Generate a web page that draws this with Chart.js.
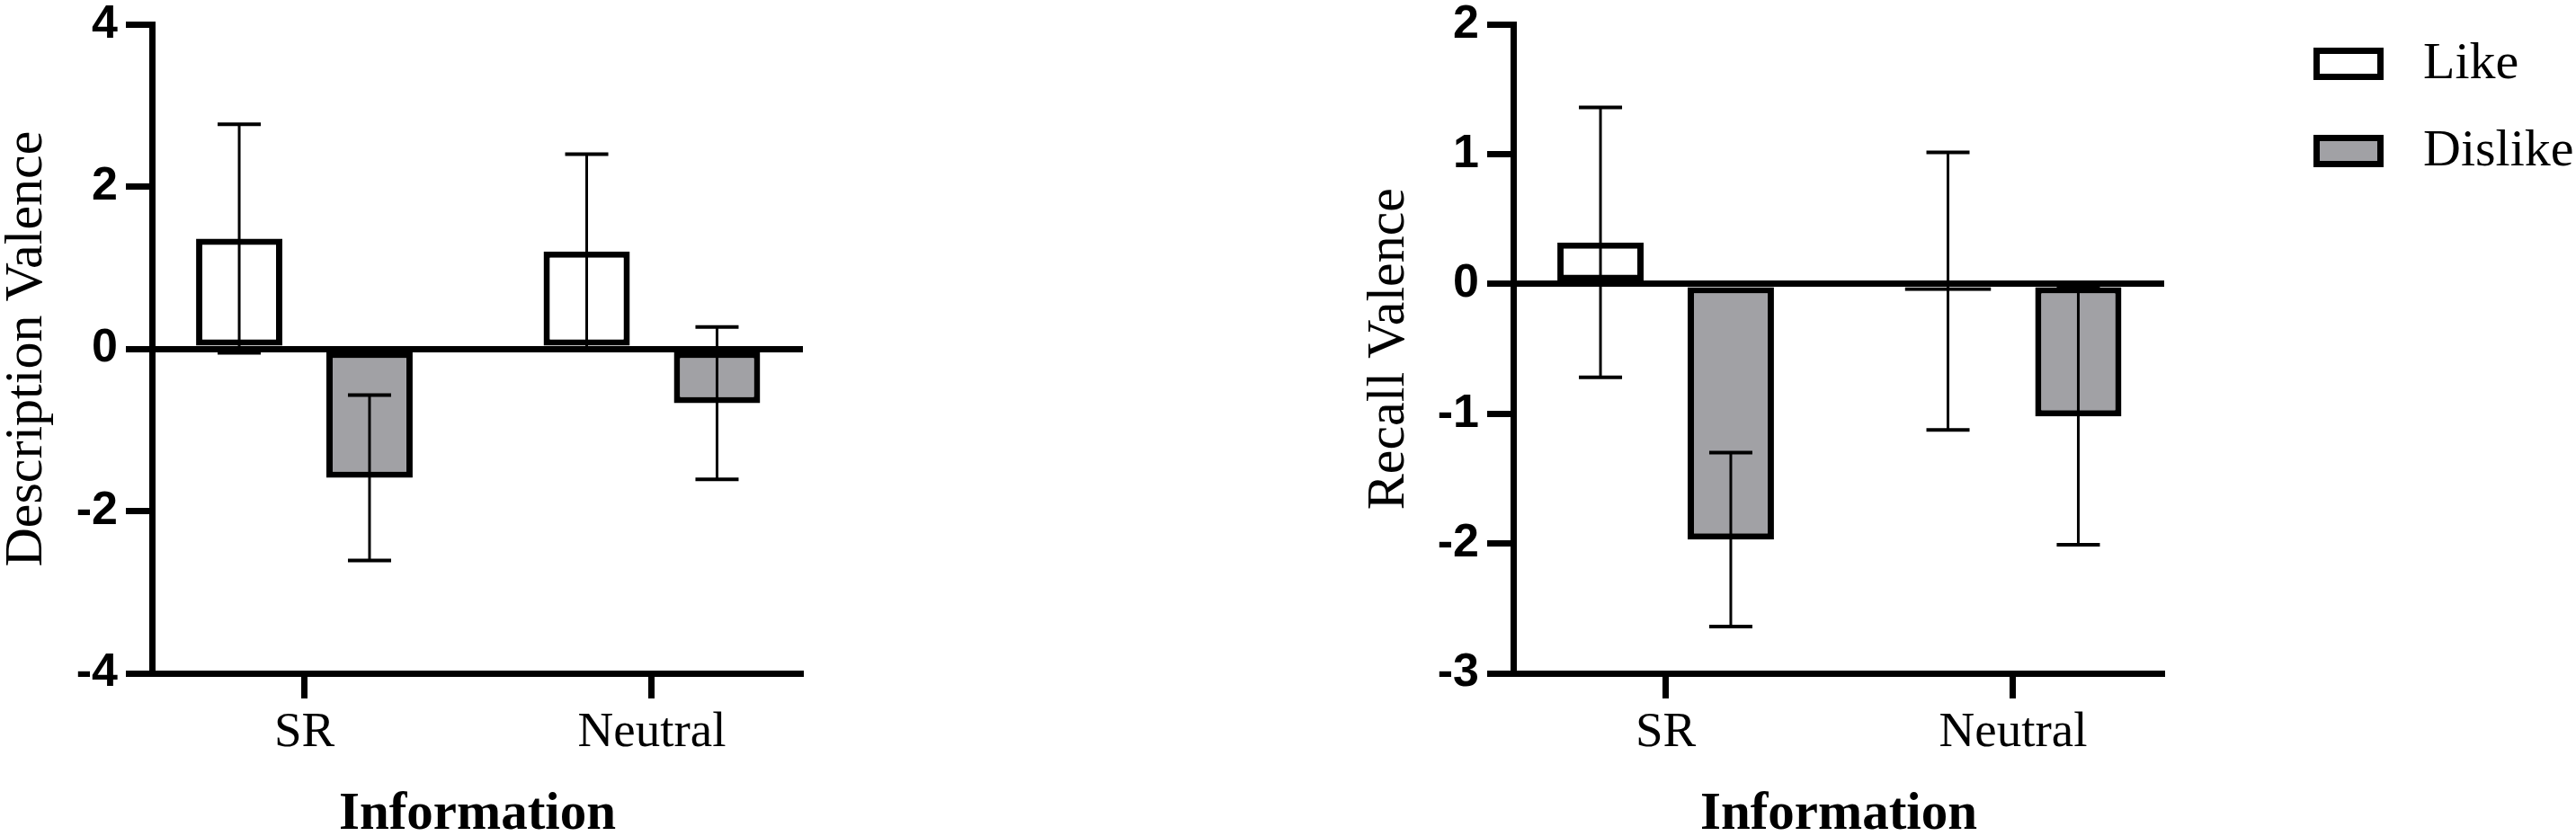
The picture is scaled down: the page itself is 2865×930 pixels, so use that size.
<!DOCTYPE html>
<html>
<head>
<meta charset="utf-8">
<script src="https://cdn.jsdelivr.net/npm/chart.js@4.4.1/dist/chart.umd.min.js"></script>
<style>
  html, body { margin: 0; padding: 0; background: #fff; }
  body { width: 2865px; height: 930px; position: relative; overflow: hidden; }
  canvas { position: absolute; top: 0; }
  #descChart { left: 0; }
  #recallChart { left: 1450px; }
</style>
</head>
<body>
<canvas id="descChart" width="1000" height="930"></canvas>
<canvas id="recallChart" width="1415" height="930"></canvas>
<script>
// values (mean, error bar half-length)
const categories = ['SR', 'Neutral'];
const groups = ['Like', 'Dislike'];

const descLike = [1.36, 1.20];
const descLikeErr = [1.41, 1.20];
const descDislike = [-1.59, -0.67];
const descDislikeErr = [1.02, 0.94];

const recallLike = [0.32, -0.055];
const recallLikeErr = [1.04, 1.07];
const recallDislike = [-1.97, -1.02];
const recallDislikeErr = [0.67, 0.99];

const descTicks = [-4, -2, 0, 2, 4];
const recallTicks = [-3, -2, -1, 0, 1, 2];

const fillColors = ['#ffffff', '#a1a1a5'];

const SERIF = '"Liberation Serif", "Times New Roman", Times, serif';
const SANS = '"Liberation Sans", Arial, Helvetica, sans-serif';

// error bars drawn from each bar's x and the y scale
const errorBars = {
  id: 'errorBars',
  afterDatasetsDraw(chart) {
    const { ctx, scales: { y } } = chart;
    ctx.save();
    ctx.strokeStyle = '#000';
    chart.data.datasets.forEach((ds, di) => {
      chart.getDatasetMeta(di).data.forEach((bar, i) => {
        const v = ds.data[i].y, e = ds.errors[i];
        const top = y.getPixelForValue(v + e);
        const bot = y.getPixelForValue(v - e);
        ctx.lineWidth = 3;
        ctx.beginPath();
        ctx.moveTo(bar.x, top);
        ctx.lineTo(bar.x, bot);
        ctx.stroke();
        ctx.lineWidth = 4;
        ctx.beginPath();
        ctx.moveTo(bar.x - 24, top); ctx.lineTo(bar.x + 24, top);
        ctx.moveTo(bar.x - 24, bot); ctx.lineTo(bar.x + 24, bot);
        ctx.stroke();
      });
    });
    ctx.restore();
  }
};

// legend to the right of the second panel
const sideLegend = {
  id: 'sideLegend',
  afterDraw(chart, args, opts) {
    if (!opts.display) return;
    const { ctx } = chart;
    ctx.save();
    chart.data.datasets.forEach((ds, i) => {
      const top = opts.y + i * opts.rowGap;
      ctx.fillStyle = ds.backgroundColor;
      ctx.fillRect(opts.x, top, opts.boxW, opts.boxH);
      ctx.lineWidth = 7;
      ctx.strokeStyle = ds.borderColor;
      ctx.strokeRect(opts.x + 3.5, top + 3.5, opts.boxW - 7, opts.boxH - 7);
      ctx.fillStyle = '#000';
      ctx.font = '58px ' + SERIF;
      ctx.textBaseline = 'middle';
      ctx.textAlign = 'left';
      ctx.fillText(ds.label, opts.x + opts.boxW + opts.textGap, top + opts.boxH / 2 + 1);
    });
    ctx.restore();
  }
};

function makeDatasets(like, likeErr, dislike, dislikeErr) {
  const vals = [like, dislike];
  const errs = [likeErr, dislikeErr];
  return groups.map((g, gi) => ({
    label: g,
    data: categories.map((c, i) => ({ x: i, y: vals[gi][i] })),
    errors: errs[gi],
    backgroundColor: fillColors[gi],
    borderColor: '#000',
    borderWidth: 7,
    borderSkipped: false,
    categoryPercentage: 0.75,
    barPercentage: 0.662
  }));
}

function makeChart(id, datasets, yTicks, yTitle, opts) {
  return new Chart(document.getElementById(id), {
    type: 'bar',
    data: { datasets },
    plugins: [errorBars, sideLegend],
    options: {
      responsive: false,
      animation: false,
      layout: { padding: { top: 21, right: opts.padRight, bottom: 0, left: 0 } },
      plugins: {
        legend: { display: false },
        tooltip: { enabled: false },
        sideLegend: opts.legend || { display: false }
      },
      scales: {
        x: {
          type: 'linear',
          offset: false,
          min: -0.4386,
          max: 1.4347,
          afterBuildTicks: s => { s.ticks = categories.map((c, i) => ({ value: i })); },
          afterFit: s => { s.height = 181; },
          ticks: {
            color: '#000',
            padding: 6,
            maxRotation: 0,
            autoSkip: false,
            font: { family: SERIF, size: 55 },
            callback: (v, i) => categories[i]
          },
          grid: { offset: false, drawOnChartArea: false, color: '#000', tickColor: '#000', tickLength: 28, tickWidth: 7 },
          border: { display: true, color: '#000', width: 7 },
          title: {
            display: true,
            text: 'Information',
            color: '#000',
            font: { family: SERIF, size: 59, weight: 'bold', lineHeight: 0.8 },
            padding: { top: 0, bottom: 0 }
          }
        },
        y: {
          min: yTicks[0],
          max: yTicks[yTicks.length - 1],
          afterBuildTicks: s => { s.ticks = yTicks.map(v => ({ value: v })); },
          afterFit: s => { s.width = opts.yWidth; },
          ticks: {
            color: '#000',
            padding: 9,
            font: { family: SANS, size: 52, weight: 'bold', lineHeight: 0.7 }
          },
          grid: {
            color: c => (c.tick && c.tick.value === 0 ? '#000' : 'rgba(0,0,0,0)'),
            lineWidth: 7,
            tickColor: '#000',
            tickWidth: 7,
            tickLength: 29
          },
          border: { display: true, color: '#000', width: 7 },
          title: {
            display: true,
            text: yTitle,
            color: '#000',
            font: { family: SERIF, size: 60, lineHeight: 0.8 },
            padding: { top: opts.titlePad, bottom: 0 }
          }
        }
      }
    }
  });
}

makeChart('descChart',
  makeDatasets(descLike, descLikeErr, descDislike, descDislikeErr),
  descTicks, 'Description Valence',
  { padRight: 107, yWidth: 169, titlePad: 6 });

makeChart('recallChart',
  makeDatasets(recallLike, recallLikeErr, recallDislike, recallDislikeErr),
  recallTicks, 'Recall Valence',
  { padRight: 458, yWidth: 233, titlePad: 71,
    legend: { display: true, x: 1123, y: 53, rowGap: 97, boxW: 78, boxH: 36, textGap: 44 } });
</script>
</body>
</html>
